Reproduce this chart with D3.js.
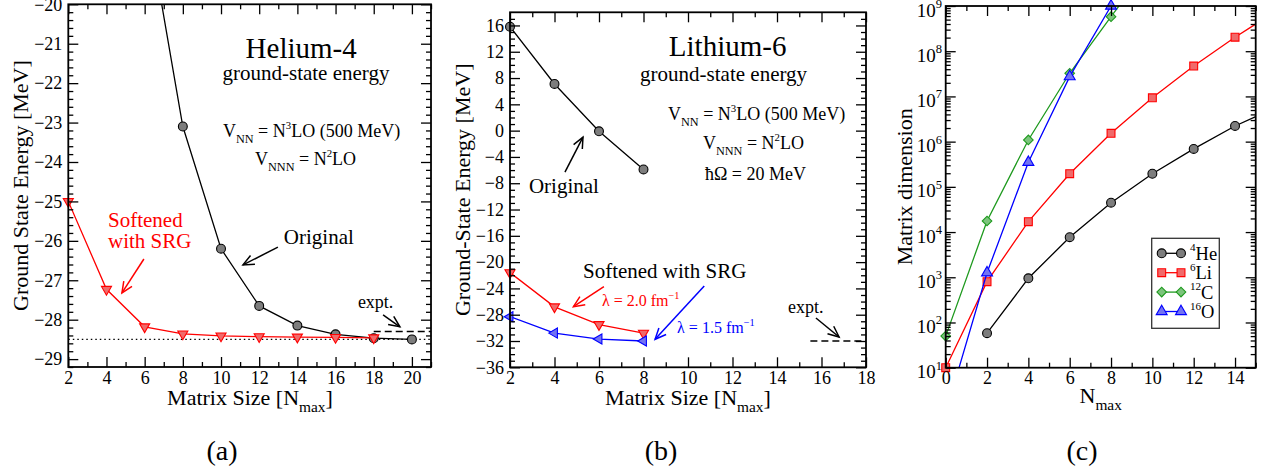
<!DOCTYPE html>
<html>
<head>
<meta charset="utf-8">
<script src="https://cdn.jsdelivr.net/npm/d3@7"></script>
<style>
  body { margin: 0; background: #fff; }
  svg { display: block; font-family: "Liberation Serif", "Times New Roman", serif; }
</style>
</head>
<body>
<svg id="fig" width="1268" height="471"></svg>
<script>
// ---------- Panel (a): Helium-4 ground-state energy ----------
const heOrigNmax = [6, 8, 10, 12, 14, 16, 18, 20];
const heOriginal = [-17.5, -23.1, -26.2, -27.65, -28.15, -28.37, -28.47, -28.5];
const heSrgNmax = [2, 4, 6, 8, 10, 12, 14, 16, 18];
const heSoftened = [-25.0, -27.23, -28.18, -28.36, -28.41, -28.43, -28.44, -28.45, -28.46];
const heExpt = -28.3;
const heConverged = -28.5;
const heYTicks = [-29, -28, -27, -26, -25, -24, -23, -22, -21, -20];
const heXTicks = [2, 4, 6, 8, 10, 12, 14, 16, 18, 20];

// ---------- Panel (b): Lithium-6 ground-state energy ----------
const liNmax = [2, 4, 6, 8];
const liOriginal = [15.8, 7.1, -0.1, -5.9];
const liLambda20 = [-21.6, -26.8, -29.5, -30.8];
const liLambda15 = [-28.3, -30.8, -31.7, -32.0];
const liExpt = -32.0;
const liYTicks = [-36, -32, -28, -24, -20, -16, -12, -8, -4, 0, 4, 8, 12, 16];
const liXTicks = [2, 4, 6, 8, 10, 12, 14, 16, 18];

// ---------- Panel (c): many-body basis dimension ----------
const dimHeNmax = [2, 4, 6, 8, 10, 12, 14, 16];
const dimHe = [58, 950, 7700, 44700, 195000, 690000, 2.22e6, 5.7e6];
const dimLiNmax = [0, 2, 4, 6, 8, 10, 12, 14, 16];
const dimLi = [10, 800, 17000, 195000, 1.53e6, 9.3e6, 4.7e7, 2.04e8, 7.8e8];
const dimCNmax = [0, 2, 4, 6, 8, 10];
const dimC = [50, 17600, 1.09e6, 3.25e7, 5.8e8, 1.0e10];
const dimONmax = [0, 2, 4, 6, 8];
const dimO = [1, 1260, 3.5e5, 2.74e7, 1.0e9];
const dimXTicks = [0, 2, 4, 6, 8, 10, 12, 14];
const dimYTicks = [1e1, 1e2, 1e3, 1e4, 1e5, 1e6, 1e7, 1e8, 1e9];

const RED = "#ff0000", BLUE = "#0000ff", GREEN = "#1f9a1f", BLACK = "#000";
const FILL = { black: "#7d7d7d", red: "#f06a6a", green: "#7cc47c", blue: "#7373f2" };

const svg = d3.select("#fig");
const zip = (xs, ys) => xs.map((n, i) => ({ n, v: ys[i] }));

// ---------- helpers ----------
function rich(g, x, y, parts, size, opts = {}) {
  const t = g.append("text")
    .attr("x", x).attr("y", y)
    .attr("font-size", size)
    .attr("text-anchor", opts.anchor || "start")
    .attr("fill", opts.fill || BLACK);
  if (opts.rotate) t.attr("transform", `rotate(${opts.rotate},${x},${y})`);
  let shift = 0;
  parts.forEach(p => {
    const target = p.sub ? size * 0.32 : p.sup ? -size * 0.45 : 0;
    t.append("tspan")
      .attr("dy", target - shift)
      .attr("font-size", (p.sub || p.sup) ? size * (p.scale || 0.68) : size)
      .text(p.t);
    shift = target;
  });
  return t;
}

function arrow(g, x1, y1, x2, y2, color) {
  const ang = Math.atan2(y2 - y1, x2 - x1), L = 12, a = 0.42;
  g.append("line").attr("x1", x1).attr("y1", y1).attr("x2", x2).attr("y2", y2)
    .attr("stroke", color).attr("stroke-width", 1.5);
  const p = [
    [x2 - L * Math.cos(ang - a), y2 - L * Math.sin(ang - a)],
    [x2, y2],
    [x2 - L * Math.cos(ang + a), y2 - L * Math.sin(ang + a)]
  ];
  g.append("polyline").attr("points", p.map(d => d.join(",")).join(" "))
    .attr("fill", "none").attr("stroke", color).attr("stroke-width", 1.5);
}

function styleAxis(sel) {
  sel.select(".domain").remove();
  sel.attr("font-family", null).attr("font-size", 18);
  sel.selectAll("line").attr("stroke", BLACK).attr("stroke-width", 1.3);
  sel.selectAll("text").attr("fill", BLACK);
}

function frame(g, x, y, cfg) {
  const [x0, x1] = x.range(), [y0, y1] = y.range();
  const M = 10, m = 5;
  const fmt = cfg.yFormat || d3.format("d");
  g.append("g").attr("transform", `translate(0,${y0})`)
    .call(d3.axisBottom(x).tickValues(cfg.xMajor).tickSize(-M).tickPadding(4).tickFormat(d3.format("d"))).call(styleAxis);
  g.append("g").attr("transform", `translate(0,${y0})`)
    .call(d3.axisBottom(x).tickValues(cfg.xMinor).tickSize(-m).tickFormat("")).call(styleAxis);
  g.append("g").attr("transform", `translate(0,${y1})`)
    .call(d3.axisTop(x).tickValues(cfg.xMajor).tickSize(-M).tickFormat("")).call(styleAxis);
  g.append("g").attr("transform", `translate(0,${y1})`)
    .call(d3.axisTop(x).tickValues(cfg.xMinor).tickSize(-m).tickFormat("")).call(styleAxis);
  g.append("g").attr("transform", `translate(${x0},0)`)
    .call(d3.axisLeft(y).tickValues(cfg.yMajor).tickSize(-M).tickPadding(6).tickFormat(cfg.customY ? "" : fmt)).call(styleAxis);
  g.append("g").attr("transform", `translate(${x0},0)`)
    .call(d3.axisLeft(y).tickValues(cfg.yMinor).tickSize(-m).tickFormat("")).call(styleAxis);
  g.append("g").attr("transform", `translate(${x1},0)`)
    .call(d3.axisRight(y).tickValues(cfg.yMajor).tickSize(-M).tickFormat("")).call(styleAxis);
  g.append("g").attr("transform", `translate(${x1},0)`)
    .call(d3.axisRight(y).tickValues(cfg.yMinor).tickSize(-m).tickFormat("")).call(styleAxis);
  g.append("rect").attr("x", x0).attr("y", y1).attr("width", x1 - x0).attr("height", y0 - y1)
    .attr("fill", "none").attr("stroke", BLACK).attr("stroke-width", 1.8);
}

function clipFor(id, x, y) {
  const [x0, x1] = x.range(), [y0, y1] = y.range();
  svg.append("clipPath").attr("id", id).append("rect")
    .attr("x", x0).attr("y", y1).attr("width", x1 - x0).attr("height", y0 - y1);
  return `url(#${id})`;
}

const SYM = {
  circle: { type: d3.symbolCircle, size: 62, rot: 0 },
  down: { type: d3.symbolTriangle, size: 44, rot: 180 },
  left: { type: d3.symbolTriangle, size: 44, rot: -90 },
  up: { type: d3.symbolTriangle, size: 52, rot: 0 },
  square: { type: d3.symbolSquare, size: 62, rot: 0 },
  diamond: { type: d3.symbolSquare, size: 46, rot: 45 }
};

// one connected series: line (clipped to the plot) plus markers inside the axis range
function series(g, x, y, pts, color, fill, shape, clip) {
  const line = d3.line().x(d => x(d.n)).y(d => y(d.v));
  g.append("path").datum(pts).attr("d", line).attr("fill", "none")
    .attr("stroke", color).attr("stroke-width", 1.3).attr("clip-path", clip);
  const [ylo, yhi] = d3.extent(y.domain());
  const s = SYM[shape];
  g.selectAll(null).data(pts.filter(d => d.v >= ylo - 1e-9 && d.v <= yhi + 1e-9))
    .join("path")
    .attr("d", d3.symbol().type(s.type).size(s.size))
    .attr("transform", d => `translate(${x(d.n)},${y(d.v)}) rotate(${s.rot})`)
    .attr("fill", fill).attr("stroke", color).attr("stroke-width", 1.1);
}
const range = (a, b, s) => d3.range(a, b + s / 2, s);

// ================= Panel (a) =================
{
  const x = d3.scaleLinear().domain([2, 21]).range([68.3, 431]);
  const y = d3.scaleLinear().domain([-29.2, -20]).range([367, 4.3]);
  const g = svg.append("g");
  const clip = clipFor("clipA", x, y);

  // converged value and experiment
  g.append("line").attr("x1", x(2)).attr("x2", x(21)).attr("y1", y(heConverged)).attr("y2", y(heConverged))
    .attr("stroke", BLACK).attr("stroke-width", 1.3).attr("stroke-dasharray", "1.5,3");
  g.append("line").attr("x1", x(18)).attr("x2", x(21)).attr("y1", y(heExpt)).attr("y2", y(heExpt))
    .attr("stroke", BLACK).attr("stroke-width", 1.6).attr("stroke-dasharray", "7,4");

  series(g, x, y, zip(heOrigNmax, heOriginal), BLACK, FILL.black, "circle", clip);
  series(g, x, y, zip(heSrgNmax, heSoftened), RED, FILL.red, "down", clip);

  frame(g, x, y, {
    xMajor: heXTicks, xMinor: range(3, 21, 2),
    yMajor: heYTicks, yMinor: range(-29.2, -20, 0.2).filter(v => Math.abs(v - Math.round(v)) > 0.01)
  });

  rich(g, x(14.2), y(-21.35), [{ t: "Helium-4" }], 29, { anchor: "middle" });
  rich(g, x(14.45), y(-21.92), [{ t: "ground-state energy" }], 21, { anchor: "middle" });
  rich(g, x(10.1), y(-23.36), [{ t: "V" }, { t: "NN", sub: true }, { t: " = N" }, { t: "3", sup: true, scale: 0.6 }, { t: "LO (500 MeV)" }], 18);
  rich(g, x(11.78), y(-24.08), [{ t: "V" }, { t: "NNN", sub: true }, { t: " = N" }, { t: "2", sup: true, scale: 0.6 }, { t: "LO" }], 18);

  rich(g, x(4.08), y(-25.65), [{ t: "Softened" }], 21, { fill: RED });
  rich(g, x(4.08), y(-26.19), [{ t: "with SRG" }], 21, { fill: RED });
  arrow(g, x(5.96), y(-26.46), x(4.81), y(-27.32), RED);

  rich(g, x(13.29), y(-26.09), [{ t: "Original" }], 21);
  arrow(g, x(12.98), y(-26.16), x(11.15), y(-26.61), BLACK);

  rich(g, x(17.17), y(-27.71), [{ t: "expt." }], 18);
  arrow(g, x(18.49), y(-27.88), x(19.37), y(-28.18), BLACK);

  rich(g, 250, 405, [{ t: "Matrix Size [N" }, { t: "max", sub: true, scale: 0.7 }, { t: "]" }], 22, { anchor: "middle" });
  rich(g, 28, 185.6, [{ t: "Ground State Energy [MeV]" }], 22, { anchor: "middle", rotate: -90 });
  rich(g, 222, 460, [{ t: "(a)" }], 28, { anchor: "middle" });
}

// ================= Panel (b) =================
{
  const x = d3.scaleLinear().domain([2, 18]).range([510, 866]);
  const y = d3.scaleLinear().domain([-36, 18]).range([367.3, 12.3]);
  const g = svg.append("g");
  const clip = clipFor("clipB", x, y);

  g.append("line").attr("x1", x(15.5)).attr("x2", x(18)).attr("y1", y(liExpt)).attr("y2", y(liExpt))
    .attr("stroke", BLACK).attr("stroke-width", 1.6).attr("stroke-dasharray", "7,4");

  series(g, x, y, zip(liNmax, liOriginal), BLACK, FILL.black, "circle", clip);
  series(g, x, y, zip(liNmax, liLambda20), RED, FILL.red, "down", clip);
  series(g, x, y, zip(liNmax, liLambda15), BLUE, FILL.blue, "left", clip);

  frame(g, x, y, {
    xMajor: liXTicks, xMinor: range(3, 17, 2),
    yMajor: liYTicks, yMinor: d3.range(-35, 18).filter(v => v % 4 !== 0)
  });

  rich(g, x(11.78), y(11.35), [{ t: "Lithium-6" }], 29, { anchor: "middle" });
  rich(g, x(11.6), y(7.55), [{ t: "ground-state energy" }], 21, { anchor: "middle" });
  rich(g, x(9.1), y(1.62), [{ t: "V" }, { t: "NN", sub: true }, { t: " = N" }, { t: "3", sup: true, scale: 0.6 }, { t: "LO (500 MeV)" }], 18);
  rich(g, x(10.67), y(-2.84), [{ t: "V" }, { t: "NNN", sub: true }, { t: " = N" }, { t: "2", sup: true, scale: 0.6 }, { t: "LO" }], 18);
  rich(g, x(10.76), y(-7.5), [{ t: "\u0127\u03A9 = 20 MeV" }], 18);

  rich(g, x(2.85), y(-9.53), [{ t: "Original" }], 21);
  arrow(g, x(4.47), y(-6.3), x(5.28), y(-0.98), BLACK);

  rich(g, x(5.28), y(-22.46), [{ t: "Softened with SRG" }], 21);
  arrow(g, x(6.22), y(-23.74), x(4.85), y(-26.78), RED);
  rich(g, x(6.13), y(-26.68), [{ t: "\u03BB = 2.0 fm" }, { t: "\u22121", sup: true, scale: 0.65 }], 16, { fill: RED });
  arrow(g, x(10.73), y(-23.63), x(8.52), y(-31.74), BLUE);
  rich(g, x(9.51), y(-30.83), [{ t: "\u03BB = 1.5 fm" }, { t: "\u22121", sup: true, scale: 0.65 }], 16, { fill: BLUE });

  rich(g, x(14.49), y(-27.7), [{ t: "expt." }], 18);
  arrow(g, x(15.75), y(-28.5), x(16.79), y(-31.39), BLACK);

  rich(g, 688, 405, [{ t: "Matrix Size [N" }, { t: "max", sub: true, scale: 0.7 }, { t: "]" }], 22, { anchor: "middle" });
  rich(g, 470, 189.8, [{ t: "Ground-State Energy [MeV]" }], 22, { anchor: "middle", rotate: -90 });
  rich(g, 661, 460, [{ t: "(b)" }], 28, { anchor: "middle" });
}

// ================= Panel (c) =================
{
  const x = d3.scaleLinear().domain([0, 15]).range([945.7, 1255.7]);
  const y = d3.scaleLog().domain([1e1, 1e9]).range([367.7, 6]);
  const g = svg.append("g");
  const clip = clipFor("clipC", x, y);

  series(g, x, y, zip(dimHeNmax, dimHe), BLACK, FILL.black, "circle", clip);
  series(g, x, y, zip(dimLiNmax, dimLi), RED, FILL.red, "square", clip);
  series(g, x, y, zip(dimCNmax, dimC), GREEN, FILL.green, "diamond", clip);
  series(g, x, y, zip(dimONmax, dimO), BLUE, FILL.blue, "up", clip);

  const minors = [];
  dimYTicks.slice(0, -1).forEach(d => { for (let k = 2; k <= 9; k++) minors.push(d * k); });
  frame(g, x, y, {
    xMajor: dimXTicks, xMinor: range(1, 15, 2),
    yMajor: dimYTicks, yMinor: minors, customY: true
  });
  dimYTicks.forEach(v => {
    rich(g, 942, y(v) + 10.5, [{ t: "10" }, { t: String(Math.round(Math.log10(v))), sup: true, scale: 0.66 }], 19, { anchor: "end" });
  });

  rich(g, 1100.7, 403, [{ t: "N" }, { t: "max", sub: true, scale: 0.7 }], 22, { anchor: "middle" });
  rich(g, 912, 186.8, [{ t: "Matrix dimension" }], 22, { anchor: "middle", rotate: -90 });
  rich(g, 1082, 460, [{ t: "(c)" }], 28, { anchor: "middle" });

  // legend
  const legend = [
    { mass: "4", el: "He", color: BLACK, fill: FILL.black, shape: "circle" },
    { mass: "6", el: "Li", color: RED, fill: FILL.red, shape: "square" },
    { mass: "12", el: "C", color: GREEN, fill: FILL.green, shape: "diamond" },
    { mass: "16", el: "O", color: BLUE, fill: FILL.blue, shape: "up" }
  ];
  const lg = g.append("g");
  lg.append("rect").attr("x", 1151.7).attr("y", 238.3).attr("width", 67.6).attr("height", 90)
    .attr("fill", "#fff").attr("stroke", "#333").attr("stroke-width", 1.3);
  legend.forEach((d, i) => {
    const yy = 253.3 + i * 19.4;
    lg.append("line").attr("x1", 1161.7).attr("x2", 1181).attr("y1", yy).attr("y2", yy)
      .attr("stroke", d.color).attr("stroke-width", 1.3);
    const s = SYM[d.shape];
    [1161.7, 1181].forEach(xx => {
      lg.append("path").attr("d", d3.symbol().type(s.type).size(s.size))
        .attr("transform", `translate(${xx},${yy}) rotate(${s.rot})`)
        .attr("fill", d.fill).attr("stroke", d.color).attr("stroke-width", 1.1);
    });
    rich(lg, 1190, yy + 6.5, [{ t: d.mass, sup: true, scale: 0.6 }, { t: d.el }], 18.5);
  });
}
</script>
</body>
</html>
